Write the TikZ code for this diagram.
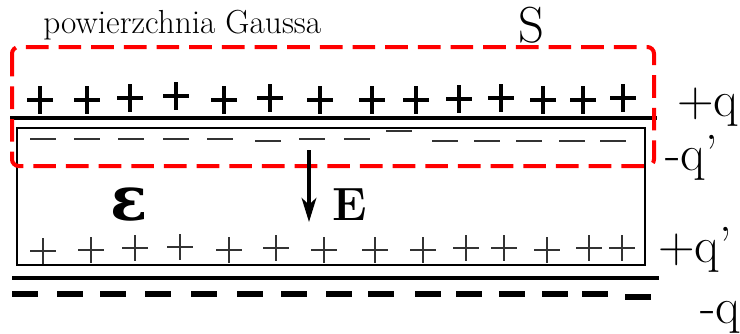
\documentclass[tikz,border=0pt]{standalone}
\usepackage{fontspec}
\newfontfamily\gsgreek{DejaVu Serif}
\usetikzlibrary{arrows.meta,positioning}
\definecolor{gsRed}{HTML}{FF0000}
\definecolor{gsInk}{HTML}{000000}
\definecolor{gsThin}{HTML}{333333}
\tikzset{
  gauss/.style={draw=gsRed, line width=3pt, dash pattern=on 17pt off 7.5pt, rounded corners=5pt},
  plate/.style={draw=gsInk, line width=3pt},
  dielectric/.style={draw=gsInk, line width=2pt},
  bigplus/.style={draw=gsInk, line width=3.6pt},
  bigminus/.style={draw=gsInk, line width=5.2pt},
  thincharge/.style={draw=gsThin, line width=1.1pt},
  field/.style={-{Stealth[length=18pt, width=11pt, inset=5pt]}, line width=2.6pt, gsInk},
  chargelabel/.style={font=\fontsize{38}{42}\selectfont, anchor=base west, inner sep=0pt},
  title/.style={font=\fontsize{25}{29}\selectfont, anchor=base west, inner sep=0pt}
}
\begin{document}
\begin{tikzpicture}[x=0.75pt, y=-0.75pt]
  \useasboundingbox (0,0) rectangle (740,333);
  % plates and dielectric
  \coordinate (topL) at (10,118);
  \coordinate (topR) at (657,118);
  \coordinate (botL) at (12,278);
  \coordinate (botR) at (659,278);
  \draw[plate] (topL) -- (topR);
  \draw[plate] (botL) -- (botR);
  \draw[dielectric] (17,128) rectangle (645,265);
  % free charges
  \foreach \x/\y in {40/100,87/100,130/98,176/96,224/100,270/98,320/100,372/100,416/100,459/99,501/98,543/100,583/100,623/98}
    {\draw[bigplus] (\x-13,\y) -- (\x+13,\y) (\x,\y-14) -- (\x,\y+14);}
  \foreach \x/\y in {25/294,70/294,113/294,158/294,204/294,250/294,294/294,339/294,381/294,428/294,469/294,512/294,555/294,595/294,638/297}
    {\draw[bigminus] (\x-13,\y) -- (\x+13,\y);}
  % bound charges
  \foreach \x/\y in {43/139,87/139,131/139,176/139,220/139,268/141,312/139,357/139,399/131,445/141,487/141,529/141,572/141,613/141}
    {\draw[thincharge] (\x-13,\y) -- (\x+13,\y);}
  \foreach \x/\y in {43/251,91/250,135/248,180/247,229/250,276/248,324/250,375/250,423/250,466/248,504/248,547/250,589/248,622/248}
    {\draw[thincharge] (\x-13,\y) -- (\x+13,\y) (\x,\y-13) -- (\x,\y+13);}
  % Gauss surface
  \draw[gauss] (12,47) rectangle (654,166);
  % field
  \coordinate (Etop) at (309,150);
  \coordinate (Etip) at (309,222);
  \draw[field] (Etop) -- (Etip);
  % labels
  \node[title] (gtitle) at (43,33) {powierzchnia Gaussa};
  \node[anchor=base west, inner sep=0pt, font=\fontsize{38}{42}\selectfont] (sname) at (518,42) {S};
  \node[anchor=base west, inner sep=0pt, font=\fontsize{35}{40}\selectfont\bfseries] (Ename) at (332,220) {E};
  \node[anchor=base west, inner sep=0pt, font=\gsgreek\fontsize{46}{50}\selectfont\bfseries] (epsname) at (110,220) {ε};
  \node[chargelabel] (qtop) at (677,116) {+q};
  \node[chargelabel] (qtopb) at (665,170) {-q’};
  \node[chargelabel] (qbotb) at (658,262) {+q’};
  \node[chargelabel] (qbot) at (700,323) {-q};
\end{tikzpicture}
\end{document}
